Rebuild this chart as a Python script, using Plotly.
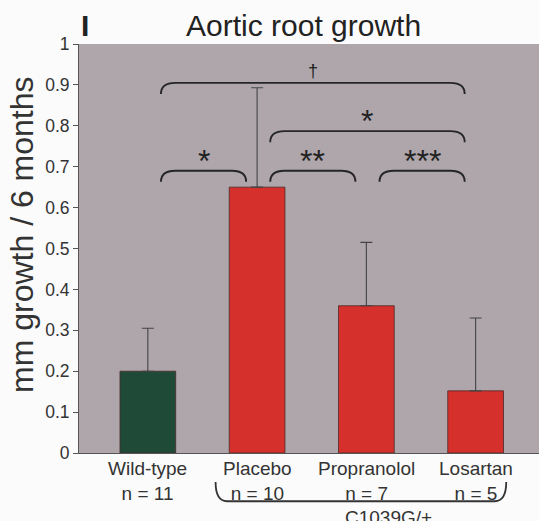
import plotly.graph_objects as go

# ---- data ----
groups = ["Wild-type", "Placebo", "Propranolol", "Losartan"]
n_labels = ["n = 11", "n = 10", "n = 7", "n = 5"]
growth = [0.20, 0.65, 0.36, 0.152]
sem = [0.105, 0.243, 0.155, 0.178]
bar_colors = ["#1f4a37", "#d5302b", "#d5302b", "#d5302b"]
# comparisons: (group i, group j, bracket level, label)
comparisons = [
    (0, 3, 0.905, "†"),
    (1, 3, 0.787, "*"),
    (0, 1, 0.690, "*"),
    (1, 2, 0.690, "**"),
    (2, 3, 0.690, "***"),
]
genotype_label = "C1039G/+"
genotype_span = (1, 3)

FONT = "Arial, Liberation Sans, Helvetica, sans-serif"
XMIN, XMAX = -0.63, 3.58
W, H = 539, 521
ML, MR, MT, MB = 79, 0, 44, 68
PW, PH = W - ML - MR, H - MT - MB

xs = list(range(len(groups)))
fig = go.Figure()
fig.add_trace(go.Bar(
    x=xs, y=growth, width=0.51,
    marker=dict(color=bar_colors, line=dict(color="#4a2a2a", width=0.8)),
    error_y=dict(type="data", symmetric=False, array=sem,
                 arrayminus=[0] * len(sem), color="#444",
                 thickness=1.1, width=6),
    showlegend=False,
))

shapes = []
annotations = []
# significance brackets
for i, j, lvl, lab in comparisons:
    x0, x1 = i + 0.12, j - 0.1
    drop = 0.027
    dx = 0.13
    path = (f"M {x0},{lvl - drop} Q {x0},{lvl} {x0 + dx},{lvl} "
            f"L {x1 - dx},{lvl} Q {x1},{lvl} {x1},{lvl - drop}")
    shapes.append(dict(type="path", path=path, xref="x", yref="y",
                       line=dict(color="#262626", width=1.9)))
    is_star = lab != "†"
    annotations.append(dict(x=(x0 + x1) / 2, y=lvl, xref="x", yref="y",
                            text=lab, showarrow=False, yanchor="bottom",
                            xanchor="center",
                            yshift=-10 if is_star else 0,
                            font=dict(family=FONT, size=32 if is_star else 18,
                                      color="#222")))

def px(v):
    return (v - XMIN) / (XMAX - XMIN)

# category labels
for k, (g, n) in enumerate(zip(groups, n_labels)):
    annotations.append(dict(x=px(k), y=-0.008, xref="paper", yref="paper",
                            text=g + "<br>" + n, showarrow=False, yanchor="top",
                            xanchor="center",
                            font=dict(family=FONT, size=19, color="#333")))

# genotype brace below axis
a, b = genotype_span
bx0, bx1 = px(a - 0.38), px(b + 0.28)
yb_top, yb_line = -0.071, -0.118
bdx = 0.025
path = (f"M {bx0},{yb_top} Q {bx0},{yb_line} {bx0 + bdx},{yb_line} "
        f"L {bx1 - bdx},{yb_line} Q {bx1},{yb_line} {bx1},{yb_top}")
shapes.append(dict(type="path", path=path, xref="paper", yref="paper",
                   line=dict(color="#333", width=1.8)))
annotations.append(dict(x=px(2.2), y=yb_line - 0.008, xref="paper", yref="paper",
                        text=genotype_label, showarrow=False, yanchor="top",
                        xanchor="center",
                        font=dict(family=FONT, size=19, color="#333")))

# title and panel letter
annotations.append(dict(x=0.488, y=1.0, xref="paper", yref="paper",
                        text="Aortic root growth", showarrow=False,
                        yanchor="bottom", xanchor="center",
                        font=dict(family=FONT, size=30, color="#222")))
annotations.append(dict(x=0.0, y=1.0, xref="paper", yref="paper",
                        text="<b>I</b>", showarrow=False, xanchor="left",
                        yanchor="bottom", xshift=0,
                        font=dict(family=FONT, size=30, color="#222")))
# y axis title
annotations.append(dict(x=(22 - ML) / PW, y=0.533, xref="paper", yref="paper",
                        text="mm growth / 6 months", showarrow=False,
                        textangle=-90, xanchor="center", yanchor="middle",
                        font=dict(family=FONT, size=32, color="#333")))

fig.update_layout(
    width=W, height=H,
    margin=dict(l=ML, r=MR, t=MT, b=MB, autoexpand=False),
    paper_bgcolor="#fbfbfb",
    plot_bgcolor="#aea6ab",
    shapes=shapes,
    annotations=annotations,
)
fig.update_xaxes(range=[XMIN, XMAX], showticklabels=False, showgrid=False,
                 zeroline=False, showline=True, linecolor="#555", linewidth=1,
                 ticks="", fixedrange=True, automargin=False)
fig.update_yaxes(range=[0, 1], dtick=0.1, showgrid=False,
                 zeroline=False, showline=True, linecolor="#555", linewidth=1,
                 ticks="outside", ticklen=5, tickcolor="#555", automargin=False,
                 tickfont=dict(family=FONT, size=17.5, color="#333"))

fig.write_html("out.html", config={"displayModeBar": False},
               post_script="document.body.style.margin='0px';")
